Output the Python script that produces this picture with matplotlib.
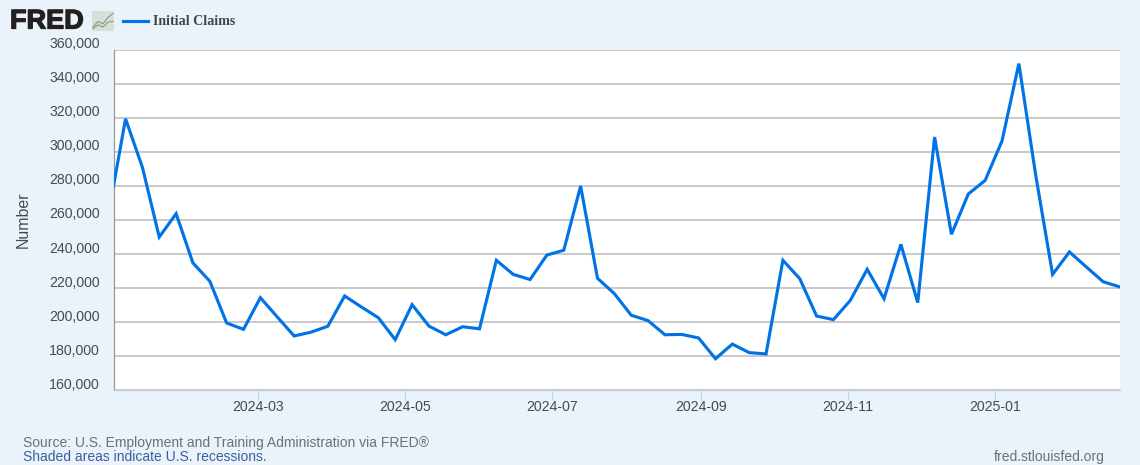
import datetime as dt
import matplotlib
matplotlib.use('Agg')
import matplotlib.pyplot as plt
import matplotlib.dates as mdates
import matplotlib.patheffects as pe
from matplotlib.ticker import FuncFormatter
from matplotlib.transforms import ScaledTranslation

# first point sits on the left edge, the rest are weekly (saturdays)
first_date = dt.datetime(2024, 1, 1)
week_start = dt.datetime(2024, 1, 6)

claims = [280.0,
          319.5, 291.0, 250.0, 263.7, 234.7, 224.0, 199.4, 195.7, 214.3, 203.0,
          191.8, 194.0, 197.5, 215.3, 208.8, 202.5, 189.6, 210.2, 197.6, 192.5,
          197.2, 196.0, 236.3, 228.0, 225.0, 239.4, 242.2, 280.0, 225.7, 216.7,
          204.0, 200.8, 192.5, 192.7, 190.6, 178.4, 187.0, 182.0, 181.2, 236.3,
          225.5, 203.5, 201.4, 212.7, 231.0, 213.7, 245.7, 211.4, 308.8, 251.6,
          275.3, 283.3, 306.5, 352.0, 286.3, 228.0, 241.2, 232.4, 223.7, 220.6]
claims = [c * 1000 for c in claims]
dates = [first_date] + [week_start + dt.timedelta(weeks=i) for i in range(len(claims) - 1)]

y_ticks = list(range(160000, 380000, 20000))
x_ticks = [dt.datetime(2024, 3, 1), dt.datetime(2024, 5, 1), dt.datetime(2024, 7, 1),
           dt.datetime(2024, 9, 1), dt.datetime(2024, 11, 1), dt.datetime(2025, 1, 1)]

W, H = 1140, 465
BG = '#EAF2FA'
plt.rcParams['font.family'] = ['Liberation Sans', 'DejaVu Sans']

fig = plt.figure(figsize=(W / 100, H / 100), dpi=100, facecolor=BG)
ax = fig.add_axes([113.5 / W, 1 - 390 / H, (1120 - 113.5) / W, 340 / H])

ax.plot(dates, claims, color='#0073E6', lw=2.25, solid_joinstyle='miter', zorder=3)

ax.set_xlim(first_date, dates[-1])
ax.set_ylim(160000, 360000)
ax.set_yticks(y_ticks)
ax.set_xticks(x_ticks)
ax.xaxis.set_major_formatter(mdates.DateFormatter('%Y-%m'))
ax.yaxis.set_major_formatter(FuncFormatter(lambda v, p: f'{int(v):,}'))

ax.grid(axis='y', color='#C0C0C0', lw=1.2)
ax.set_axisbelow(True)
ax.tick_params(axis='y', length=0, pad=10, labelsize=10.2, labelcolor='#4A4A4A')
ax.tick_params(axis='x', length=7, width=0.8, color='#C5D3E6', pad=0,
               labelsize=10.2, labelcolor='#4A4A4A')
shift = ScaledTranslation(0, 7 / 100, fig.dpi_scale_trans)
for lab in ax.get_yticklabels():
    lab.set_transform(lab.get_transform() + shift)

for s in ['top', 'right']:
    ax.spines[s].set_visible(False)
ax.spines['left'].set_color('#999999')
ax.spines['left'].set_linewidth(0.9)
ax.spines['bottom'].set_color('#C0CFE2')
ax.spines['bottom'].set_linewidth(1.0)

fig.text(23 / W, 1 - 220 / H, 'Number', rotation=90, fontsize=11.4, color='#4A4A4A',
         ha='center', va='center')

# header
fig.text(10 / W, 1 - 21.5 / H, 'FRED', fontsize=19.5, fontweight='bold', color='#231F20',
         ha='left', va='center', path_effects=[pe.withStroke(linewidth=0.9, foreground='#231F20')])
icon = fig.add_axes([92 / W, 1 - 31 / H, 22 / W, 20 / H], facecolor='#D9DEDA')
icon.plot([0, 1, 2, 3, 4], [1, 2.4, 1.8, 3.4, 4.4], color='#7C93A8', lw=0.8)
icon.plot([0, 1, 2, 3, 4], [0.6, 1.5, 1.0, 2.2, 2.4], color='#7FA35A', lw=0.8)
icon.set_xlim(-0.2, 4.2)
icon.set_ylim(0, 5)
icon.set_xticks([])
icon.set_yticks([])
for s in icon.spines.values():
    s.set_visible(False)

fig.add_artist(plt.Line2D([123 / W, 148 / W], [1 - 21.5 / H] * 2, color='#0073E6', lw=2.25))
fig.text(153 / W, 1 - 21.5 / H, 'Initial Claims', fontsize=10.1, fontweight='bold',
         family='Liberation Serif', color='#444444', ha='left', va='center')

# footer
fig.text(23 / W, 1 - 442.5 / H, 'Source: U.S. Employment and Training Administration via FRED®',
         fontsize=10, color='#707070', ha='left', va='center')
fig.text(23 / W, 1 - 457 / H, 'Shaded areas indicate U.S. recessions.',
         fontsize=10, color='#3B5F9E', ha='left', va='center')
fig.text(1105 / W, 1 - 457 / H, 'fred.stlouisfed.org',
         fontsize=10, color='#707070', ha='right', va='center')

fig.savefig('out.png', dpi=100, facecolor=BG)
